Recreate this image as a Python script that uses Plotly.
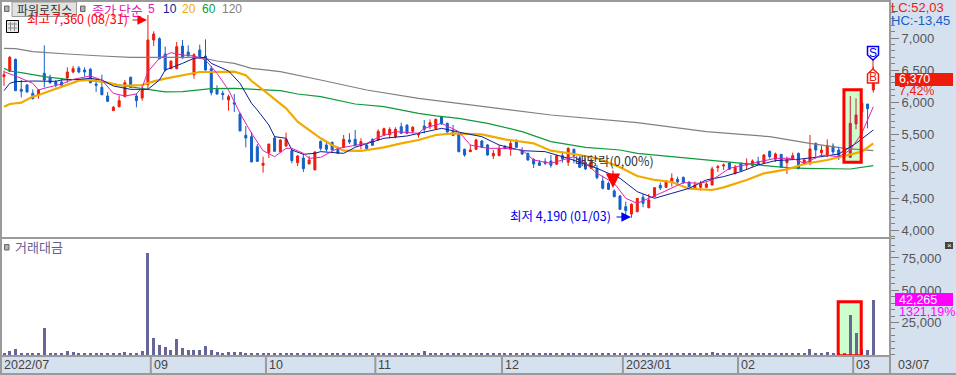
import plotly.graph_objects as go

W, H = 956, 375

opens = [6396,6479,6667,6198,6266,6136,6115,6448,6386,6313,6313,6375,6469,6532,6500,6511,6281,6229,6094,5865,
5927,6084,6386,6094,6063,6271,6969,6990,6750,6521,6521,6875,6781,6427,6813,6719,6521,6198,6136,6031,
5990,5813,5480,5459,5302,5011,5209,5438,5219,5313,5240,5052,5125,5032,4938,5386,5328,5370,5261,5292,
5407,5417,5328,5328,5417,5407,5485,5490,5459,5615,5636,5542,5485,5625,5615,5584,5771,5667,5537,5511,
5261,5224,5261,5391,5328,5157,5162,5302,5261,5396,5240,5198,5104,5052,5068,5078,5026,5162,5058,5261,
5120,5052,4964,4964,4766,4730,4610,4532,4365,4250,4287,4511,4349,4521,4698,4667,4750,4792,4823,4750,
4651,4667,4667,4703,4974,5000,5047,4886,5042,5011,5006,5073,5052,5230,5105,5183,5052,5115,5198,5042,
5042,5355,5209,5157,5313,5250,5276,5136,5657,5849,5969,6188]
highs = [6490,6719,6677,6344,6281,6198,6198,6886,6427,6344,6365,6542,6563,6563,6542,6532,6365,6427,6157,5938,
6104,6344,6396,6136,6261,7360,7104,7011,6865,6656,6938,6969,6886,6761,6896,6979,6563,6261,6177,6115,
6125,5834,5625,5532,5344,5146,5344,5469,5417,5521,5271,5167,5188,5157,5230,5396,5381,5381,5302,5485,
5511,5563,5433,5354,5433,5573,5599,5605,5605,5677,5656,5625,5521,5719,5729,5740,5782,5677,5641,5521,
5271,5328,5427,5407,5344,5250,5328,5328,5422,5417,5292,5209,5120,5094,5120,5172,5172,5224,5292,5271,
5146,5120,5172,5016,4849,4755,4636,4547,4443,4417,4495,4563,4563,4667,4740,4782,4886,4834,4834,4756,
4756,4766,4745,4990,5016,5042,5063,5016,5052,5120,5104,5146,5188,5240,5209,5188,5146,5209,5209,5120,
5485,5365,5323,5417,5354,5302,5302,6094,6058,6005,5969,6552]
lows = [6250,6469,6177,6073,6146,6042,6052,6229,6281,6229,6229,6302,6448,6448,6396,6292,6157,6104,6000,5865,
5917,6073,6219,5917,6021,6198,6875,6667,6479,6511,6511,6677,6698,6365,6677,6490,6104,6115,6031,5865,
5844,5547,5292,5063,5063,4896,5125,5219,5209,5302,5042,5000,4907,5032,4938,5240,5224,5240,5188,5276,
5344,5302,5261,5261,5313,5396,5469,5433,5433,5500,5500,5511,5443,5511,5573,5573,5646,5521,5469,5214,
5146,5219,5250,5282,5162,5110,5151,5261,5162,5282,5172,5084,4969,5000,5016,4974,5016,5052,5000,5042,
4969,4938,4954,4792,4636,4625,4511,4313,4219,4190,4276,4355,4339,4511,4625,4657,4677,4719,4719,4667,
4636,4615,4651,4698,4907,4938,4938,4865,4917,4938,4990,5021,5042,5115,5063,4969,4875,5105,4948,5021,
5011,5115,5146,5136,5177,5094,5146,5125,5573,5771,5589,6146]
closes = [6427,6698,6177,6167,6157,6052,6188,6344,6302,6271,6261,6469,6521,6469,6469,6302,6261,6115,6011,5917,
6021,6302,6229,6021,6209,6969,7063,6677,6500,6636,6865,6688,6729,6740,6688,6500,6146,6125,6115,6084,
5969,5547,5438,5063,5073,5042,5344,5230,5407,5417,5084,5157,4959,5094,5219,5276,5261,5250,5198,5417,
5375,5323,5381,5271,5323,5542,5584,5573,5573,5511,5511,5605,5511,5573,5677,5729,5656,5532,5479,5224,
5172,5250,5407,5292,5172,5198,5276,5271,5354,5292,5188,5094,5032,5011,5042,5011,5162,5110,5276,5167,
4979,4954,5094,4818,4651,4636,4521,4323,4303,4401,4495,4417,4469,4662,4657,4766,4808,4750,4740,4677,
4703,4730,4719,4954,4990,5016,4948,4980,4927,5042,5078,5032,5172,5146,5188,4980,5094,5162,4959,5094,
5266,5250,5250,5323,5219,5167,5172,5667,5797,5980,5896,6370]
turnover = [1500,3100,4600,1500,1500,1500,1500,20900,1500,1500,1500,3100,2300,1500,1500,1500,1500,1500,1500,770,
1500,2300,1500,1500,3100,78900,13100,7700,6200,3900,12400,5400,3900,3900,3900,7000,3900,2300,1500,2300,
2300,2300,1500,1500,1500,1500,1500,1500,770,1500,1500,1500,1500,1500,
1500,1500,1500,770,770,1500,770,1500,770,1500,770,1500,1500,770,770,1500,1500,1500,770,2600,1500,1500,1500,
770,770,1500,770,770,1500,770,770,770,770,770,1500,770,770,770,1500,770,770,770,770,770,770,770,1500,770,770,
1500,1500,770,770,1500,770,1500,770,
1500,1500,770,770,770,1500,770,770,770,770,770,770,2300,1500,1500,1500,1500,770,1500,1500,1500,1500,1500,1500,
1500,1500,1500,770,1500,4600,1500,1500,2300,1500,1500,1500,30900,17000,4600,3900,42265]

ma5_i = [0,2,5,6,7,10,12,15,17,19,21,23,24,25,27,29,31,33,35,37,39,41,43,45,47,49,50,52,53,55,58,61,63,65,68,72,73,76,79,81,84,87,90,92,95,99,101,103,106,108,110,114,118,121,123,126,130,134,137,139,142,145,147,149,151]
ma5_v = [6474,6407,6292,6188,6214,6281,6354,6407,6344,6136,6094,6125,6229,6474,6683,6771,6735,6719,6656,6448,6188,5823,5511,5240,5146,5276,5276,5198,5120,5136,5276,5328,5354,5448,5537,5511,5589,5667,5537,5328,5276,5276,5250,5094,5042,5146,5042,4886,4730,4495,4417,4573,4740,4730,4782,4964,5042,5120,5120,5042,5172,5146,5250,5511,5927]
ma10_i = [0,1,2,5,9,10,13,15,17,19,22,25,27,28,31,33,35,36,39,41,43,44,46,47,49,50,52,54,55,59,61,66,70,74,76,80,83,86,90,94,98,103,107,110,113,116,119,122,125,128,131,134,138,142,145,148,151]
ma10_v = [6177,6292,6318,6328,6323,6344,6354,6370,6344,6250,6198,6198,6344,6500,6604,6683,6698,6604,6485,6292,5979,5875,5641,5459,5433,5250,5183,5198,5224,5198,5292,5433,5469,5552,5589,5511,5459,5328,5240,5224,5120,4964,4808,4599,4495,4573,4651,4782,4834,4912,5016,5084,5105,5146,5188,5354,5563]
ma20_i = [0,1,3,5,6,8,11,13,15,18,20,22,24,26,28,31,34,36,40,42,43,45,47,49,51,53,55,57,59,62,66,69,72,75,78,83,87,92,95,99,103,107,110,113,116,119,123,125,129,132,136,139,143,146,149,151]
ma20_v = [5927,5969,5990,6084,6110,6177,6266,6334,6344,6302,6261,6255,6266,6323,6365,6417,6469,6469,6474,6417,6328,6188,6042,5901,5693,5563,5433,5328,5240,5235,5292,5354,5407,5485,5511,5495,5417,5354,5240,5188,5120,4980,4844,4782,4750,4646,4625,4667,4782,4886,4948,5032,5094,5157,5224,5354]
ma60_i = [0,1,3,5,7,11,14,18,21,25,28,31,34,36,40,44,48,51,55,61,66,72,75,79,84,90,95,101,107,110,116,122,127,131,136,139,147,151]
ma60_v = [6526,6485,6459,6427,6396,6354,6344,6302,6250,6198,6157,6162,6188,6209,6214,6198,6177,6125,6084,5969,5927,5823,5782,5745,5667,5537,5381,5292,5250,5198,5146,5094,5042,5006,4974,4964,4953,5006]
ma120_i = [0,2,5,7,11,17,22,28,34,37,40,43,48,55,63,72,84,95,110,122,133,140,146,151]
ma120_v = [6839,6834,6787,6771,6750,6719,6698,6698,6698,6641,6604,6526,6474,6344,6188,6058,5927,5797,5677,5537,5459,5354,5276,5240]

price_ticks = [4000,4500,5000,5500,6000,6500,7000]
turnover_ticks = [25000,50000,75000]
month_starts = [0,26,46,65,87,108,128,148]
month_labels = ["2022/07","09","10","11","12","2023/01","02","03"]
highlighted = [147,148]

RED, BLUE, CRIMSON = "#EE1C0C", "#1560C8", "#D81E42"
GRID = "#9A9A9A"
FONT = "Liberation Sans, Noto Sans CJK KR, sans-serif"
KR = "Noto Sans CJK KR, Liberation Sans, sans-serif"
TICK = "#555555"

x = list(range(len(opens)))
fig = go.Figure()

def candles(idx, up, down):
    fig.add_trace(go.Candlestick(
        x=idx, open=[opens[i] for i in idx], high=[highs[i] for i in idx],
        low=[lows[i] for i in idx], close=[closes[i] for i in idx],
        increasing=dict(line=dict(color=up, width=1), fillcolor=up),
        decreasing=dict(line=dict(color=down, width=1), fillcolor=down),
        whiskerwidth=0, xaxis="x", yaxis="y", showlegend=False, hoverinfo="skip"))

def px(v): return v / W
def py(v): return 1 - v / H

shapes = []
# highlight fill goes under the marks
shapes.append(dict(type="rect", xref="x", yref="y", x0=145.9, x1=148.9, y0=5060, y1=6190,
                   fillcolor="#CCFFCC", line_width=0, layer="below"))
shapes.append(dict(type="rect", xref="x2", yref="y2", x0=144.9, x1=148.9, y0=0, y1=41000,
                   fillcolor="#CCFFCC", line_width=0, layer="below"))

candles([i for i in x if i not in highlighted], RED, BLUE)
candles(highlighted, CRIMSON, CRIMSON)

for xs, ys, col, w in [(ma120_i, ma120_v, "#808080", 1.2), (ma60_i, ma60_v, "#109A3C", 1.2),
                       (ma20_i, ma20_v, "#F0AA00", 2.2), (ma10_i, ma10_v, "#0A1E96", 1),
                       (ma5_i, ma5_v, "#DE22B4", 1)]:
    fig.add_trace(go.Scatter(x=xs, y=ys, mode="lines", line=dict(color=col, width=w),
                             xaxis="x", yaxis="y", showlegend=False, hoverinfo="skip"))

fig.add_trace(go.Bar(x=x, y=turnover, marker=dict(color="#66669A", line_width=0), width=0.52,
                     xaxis="x2", yaxis="y2", showlegend=False, hoverinfo="skip"))

# highlight borders over the marks
shapes.append(dict(type="rect", xref="x", yref="y", x0=145.9, x1=148.9, y0=5060, y1=6190,
                   fillcolor="rgba(0,0,0,0)", line=dict(color="#FF0000", width=3), layer="above"))
shapes.append(dict(type="rect", xref="x2", yref="y2", x0=144.9, x1=148.9, y0=-800, y1=41000,
                   fillcolor="rgba(0,0,0,0)", line=dict(color="#FF0000", width=3), layer="above"))

def rect(x0, y0, x1, y1, fill, line=None, lw=1):
    shapes.append(dict(type="rect", xref="paper", yref="paper", x0=px(x0), x1=px(x1), y0=py(y0), y1=py(y1),
                       fillcolor=fill, line=dict(color=line or fill, width=lw if line else 0), layer="above"))

def seg(x0, y0, x1, y1, col, lw=1):
    shapes.append(dict(type="line", xref="paper", yref="paper", x0=px(x0), x1=px(x1), y0=py(y0), y1=py(y1),
                       line=dict(color=col, width=lw), layer="above"))

# frame
for y0 in [1, 238, 356, 374]:
    seg(0, y0, 956 if y0 == 374 else 890, y0, GRID, 2)
seg(890, 0, 890, 375, GRID, 2)
seg(1, 0, 1, 375, GRID, 2)

# month separators in the date strip
for m in month_starts[1:]:
    shapes.append(dict(type="line", xref="x2", yref="paper", x0=m - 0.5, x1=m - 0.5, y0=py(374), y1=py(356),
                       line=dict(color=GRID, width=2), layer="above"))

# small icons
rect(4.5, 6, 9, 11.5, "#B0B0B0", "#666666")
rect(80.5, 6, 85, 11.5, "#B0B0B0", "#666666")
rect(4.5, 244.5, 9, 250, "#B0B0B0", "#666666")
rect(12, 2, 76.5, 16.5, "#E2E2E2", "#999999")
rect(6.5, 20.5, 18.5, 32.5, "#E8E8E8", "#000000")
for v in [10.5, 14.5]:
    seg(v, 22, v, 31, "#888888")
for v in [24, 28]:
    seg(8, v, 17, v, "#888888")
rect(945, 242, 953, 249, "#444444")

# S / B flags
def flag(y_top, y_bot, pointing_down, col):
    xl, xr, xm = 867.5, 878.5, 873
    if pointing_down:
        p = f"M{px(xl)},{py(y_top)} L{px(xr)},{py(y_top)} L{px(xr)},{py(y_bot-5)} L{px(xm)},{py(y_bot)} L{px(xl)},{py(y_bot-5)} Z"
    else:
        p = f"M{px(xm)},{py(y_top)} L{px(xr)},{py(y_top+5)} L{px(xr)},{py(y_bot)} L{px(xl)},{py(y_bot)} L{px(xl)},{py(y_top+5)} Z"
    shapes.append(dict(type="path", xref="paper", yref="paper", path=p, fillcolor="#FFFFFF",
                       line=dict(color=col, width=1.5), layer="above"))

seg(873, 60, 873, 69, RED, 1)
flag(46.5, 60, True, "#0000EE")
flag(69, 83, False, RED)

# price tags
rect(895, 73, 953, 86, "#EE1C0C")
rect(895, 293, 953, 306, "#FF00FF")

anns = []
def txt(xp, yp, s, col, size=12, font=KR, anchor="left"):
    anns.append(dict(xref="paper", yref="paper", x=px(xp), y=py(yp), text=s, showarrow=False, xanchor=anchor,
                     yanchor="middle", font=dict(family=font, size=size, color=col),
                     xshift=0, yshift=0, borderpad=0, borderwidth=0))

txt(44, 9.5, "파워로직스", "#333333", 12, KR, "center")
txt(92, 9.5, "종가 단순", "#DE22B4", 13)
txt(148, 9, "5", "#DE22B4", 12, FONT)
txt(163, 9, "10", "#0A1E96", 12, FONT)
txt(182, 9, "20", "#F0AA00", 12, FONT)
txt(202, 9, "60", "#109A3C", 12, FONT)
txt(222, 9, "120", "#808080", 12, FONT)
txt(27, 19, "최고 7,360 (08/31)", "#FF0000", 12.5)
txt(510, 216, "최저 4,190 (01/03)", "#0000EE", 12.5)
txt(575, 160, "배당락(0,00%)", "#333333", 12.5)
txt(15, 247, "거래대금", "#5E5E96", 13)
txt(891, 8, "LC:52,03", "#EE1C0C", 13, FONT)
txt(891, 20, "HC:-13,45", "#1560C8", 13, FONT)
txt(899, 79.5, "6,370", "#FFFFFF", 12.5, FONT)
txt(899, 91, "7,42%", "#EE1C0C", 12.5, FONT)
txt(899, 299.5, "42,265", "#FFFFFF", 12.5, FONT)
txt(899, 312, "1321,19%", "#FF00FF", 12.5, FONT)
txt(898, 365, "03/07", "#444444", 12.5, FONT)
txt(873, 53, "S", "#0000EE", 12, FONT, "center")
txt(873, 77, "B", RED, 12, FONT, "center")
txt(949, 245.5, "×", "#FFFFFF", 8, FONT, "center")

for m, lab in zip(month_starts, month_labels):
    anns.append(dict(xref="x2", yref="paper", x=m - 0.5, y=py(365), text=lab, showarrow=False,
                     xanchor="left", yanchor="middle", xshift=1,
                     font=dict(family=FONT, size=12.5, color="#444444")))

def arrow(x_tail, y_tail, x_head, y_head, col, size):
    anns.append(dict(xref="paper", yref="paper", x=px(x_head), y=py(y_head), axref="pixel", ayref="pixel",
                     ax=x_tail - x_head, ay=y_tail - y_head, text="", showarrow=True, arrowhead=2,
                     arrowsize=size, arrowwidth=1.2, arrowcolor=col))

arrow(131, 20, 147, 20, "#FF0000", 1.6)
arrow(615, 217, 631, 217, "#0000EE", 1.6)
arrow(613, 169, 613, 188, "#FF0000", 2.4)

common_x = dict(range=[-0.695, 153.9], domain=[0, 890 / 956], showgrid=False, zeroline=False,
                showticklabels=False, ticks="", fixedrange=True)
common_y = dict(side="right", showgrid=False, zeroline=False, ticks="outside", ticklen=8, tickwidth=1,
                tickcolor="#808080", showline=False, tickformat=",d", fixedrange=True,
                tickfont=dict(family=FONT, size=13, color=TICK))

fig.update_layout(
    width=W, height=H, autosize=False,
    margin=dict(l=0, r=0, t=0, b=0, pad=0),
    paper_bgcolor="#D6E1F0", plot_bgcolor="#FFFFFF",
    boxgap=0.5, bargap=0, showlegend=False,
    xaxis=dict(anchor="y", rangeslider=dict(visible=False), **common_x),
    xaxis2=dict(anchor="y2", **common_x),
    yaxis=dict(anchor="x", domain=[1 - 238 / H, 1], range=[3875, 7594], tickmode="array", tickvals=price_ticks,
               minor=dict(ticks="outside", dtick=100, ticklen=4, tickcolor="#808080", tickwidth=1), **common_y),
    yaxis2=dict(anchor="x2", domain=[1 - 356 / H, 1 - 238 / H], range=[-1000, 90465], tickmode="array",
                tickvals=turnover_ticks,
                minor=dict(ticks="outside", dtick=5000, ticklen=4, tickcolor="#808080", tickwidth=1), **common_y),
    shapes=shapes, annotations=anns,
)
fig.write_html("out.html", config={"displayModeBar": False},
               post_script="document.body.style.margin='0';document.body.style.background='#D6E1F0';")
